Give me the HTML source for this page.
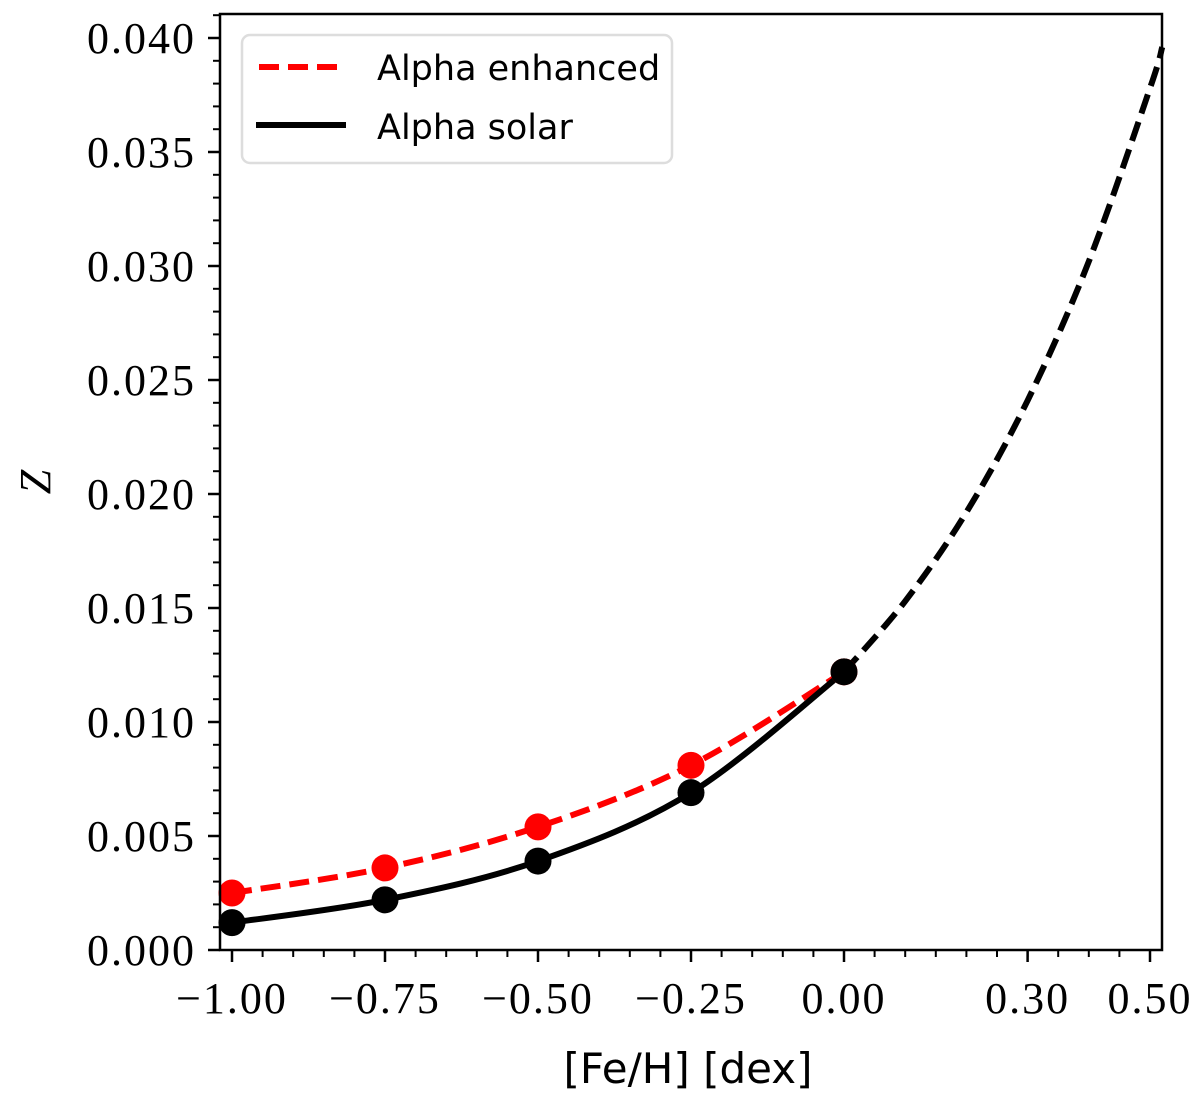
<!DOCTYPE html>
<html><head><meta charset="utf-8"><style>
body{margin:0;background:#fff}
svg{display:block}
.tick{font-family:"Liberation Serif",serif;font-size:44px;letter-spacing:2px}
.lab{font-family:"DejaVu Sans","Liberation Sans",sans-serif;font-size:35px}
.xlab{font-family:"DejaVu Sans","Liberation Sans",sans-serif;font-size:42px}
</style></head><body>
<svg id="chart" width="1200" height="1099">
<g id="grid"></g>
<g id="series"></g>
<g id="axes"></g>
</svg>
<script>
const xTicks=[-1.00,-0.75,-0.50,-0.25,0.00,0.30,0.50];
const xTickLabels=["\u22121.00","\u22120.75","\u22120.50","\u22120.25","0.00","0.30","0.50"];
const yTicks=[0,0.005,0.010,0.015,0.020,0.025,0.030,0.035,0.040];
const yTickLabels=["0.000","0.005","0.010","0.015","0.020","0.025","0.030","0.035","0.040"];
const feh=[-1.00,-0.75,-0.50,-0.25,0.00];
const zEnhanced=[0.0025,0.0036,0.0054,0.0081,0.0122];
const zSolar=[0.0012,0.0022,0.0039,0.0069,0.0122];
const fehExt=[0.00,0.10,0.20,0.30,0.40,0.50,0.52];
const zExt=[0.0122,0.0153,0.0192,0.0241,0.0302,0.0378,0.0396];

const L=220,R=1162,T=14,B=950;
const x=v=>844+(v)*612;
const y=v=>950-v*22800;
const NS="http://www.w3.org/2000/svg";
function mk(tag,attrs,parent){const e=document.createElementNS(NS,tag);for(const k in attrs)e.setAttribute(k,attrs[k]);parent.appendChild(e);return e;}
const S=document.getElementById('series'),A=document.getElementById('axes');

function smooth(xs,ys){
  const p=xs.map((v,i)=>[x(v),y(ys[i])]);
  let d=`M${p[0][0]},${p[0][1]}`;
  for(let i=0;i<p.length-1;i++){
    const p0=p[i-1]||p[i],p1=p[i],p2=p[i+1],p3=p[i+2]||p[i+1];
    const c1=[p1[0]+(p2[0]-p0[0])/6,p1[1]+(p2[1]-p0[1])/6];
    const c2=[p2[0]-(p3[0]-p1[0])/6,p2[1]-(p3[1]-p1[1])/6];
    d+=` C${c1[0]},${c1[1]} ${c2[0]},${c2[1]} ${p2[0]},${p2[1]}`;
  }
  return d;
}
let e;
e=mk('path',{d:smooth(feh,zEnhanced),fill:'none',stroke:'#ff0000','stroke-width':6,'stroke-dasharray':'20,9'},S);


e=mk('path',{d:smooth(feh,zSolar),fill:'none',stroke:'#000','stroke-width':6},S);


e=mk('path',{d:smooth(fehExt,zExt),fill:'none',stroke:'#000','stroke-width':6,'stroke-dasharray':'20,9'},S);


feh.forEach((v,i)=>{
  const c=mk('circle',{cx:x(v),cy:y(zEnhanced[i]),r:13.5,fill:'#ff0000'},S);
  
  
});
feh.forEach((v,i)=>{
  const c=mk('circle',{cx:x(v),cy:y(zSolar[i]),r:13.5,fill:'#000'},S);
  
  
});

e=mk('rect',{x:L,y:T,width:R-L,height:B-T,fill:'none',stroke:'#000','stroke-width':2.5},A);


for(let k=-20;k<=10;k++){const v=k*0.05;mk('line',{x1:x(v),x2:x(v),y1:B,y2:B+7,stroke:'#000','stroke-width':2},A);}
xTicks.forEach((v,i)=>{
  mk('line',{x1:x(v),x2:x(v),y1:B,y2:B+12,stroke:'#000','stroke-width':2.5},A);
  const t=mk('text',{x:x(v),y:1013,'text-anchor':'middle',class:'tick'},A);
  t.textContent=xTickLabels[i];
  
  
});
for(let k=0;k<=41;k++){const v=k*0.001;mk('line',{x1:L,x2:L-7,y1:y(v),y2:y(v),stroke:'#000','stroke-width':2},A);}
yTicks.forEach((v,i)=>{
  mk('line',{x1:L,x2:L-12,y1:y(v),y2:y(v),stroke:'#000','stroke-width':2.5},A);
  const t=mk('text',{x:L-24,y:y(v)+15,'text-anchor':'end',class:'tick'},A);
  t.textContent=yTickLabels[i];
  
  
});
</script>
<svg style="position:absolute;left:0;top:0" width="1200" height="1099">
<text x="688" y="1083" text-anchor="middle" class="xlab">[Fe/H] [dex]</text>
<text x="50" y="482" text-anchor="middle" font-family="Liberation Serif,serif" font-style="italic" font-size="44" transform="rotate(-90 50 482)">Z</text>
<g>
<rect x="242" y="35" width="430" height="128" rx="8" fill="#fff" fill-opacity="0.8" stroke="#ddd" stroke-width="2.5"/>
<line x1="259" y1="67" x2="345" y2="67" stroke="#ff0000" stroke-width="6" stroke-dasharray="20,9"/>
<text x="377" y="80" class="lab">Alpha enhanced</text>
<line x1="256" y1="125" x2="346" y2="125" stroke="#000" stroke-width="6"/>
<text x="377" y="139" class="lab">Alpha solar</text>
</g>
</svg>
</body></html>
